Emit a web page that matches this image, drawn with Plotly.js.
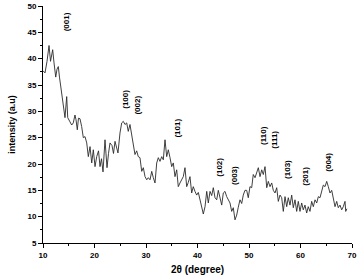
<!DOCTYPE html>
<html>
<head>
<meta charset="utf-8">
<script src="https://cdn.plot.ly/plotly-3.0.1.min.js"></script>
<style>html,body{margin:0;padding:0;background:#fff;}#chart{width:357px;height:279px;}</style>
</head>
<body>
<div id="chart"></div>
<script>
const twoTheta = [10.00,10.39,10.78,11.17,11.46,11.88,12.14,12.47,12.72,12.97,13.20,13.44,13.83,14.08,14.27,14.60,14.80,15.24,15.57,15.88,16.21,16.41,16.66,16.89,17.18,17.51,17.83,18.16,18.49,18.80,19.13,19.46,19.77,20.10,20.43,20.78,21.07,21.36,21.65,22.04,22.43,22.72,23.01,23.40,23.69,23.98,24.27,24.56,24.95,25.28,25.59,25.92,26.25,26.56,26.89,27.22,27.53,27.86,28.19,28.50,28.83,29.17,29.48,29.81,30.14,30.45,30.78,31.11,31.42,31.75,32.08,32.39,32.72,33.05,33.36,33.69,34.02,34.33,34.66,34.99,35.30,35.63,35.96,36.27,36.60,36.89,37.24,37.57,37.90,38.21,38.54,38.87,39.18,39.51,39.84,40.16,40.49,40.82,41.13,41.46,41.79,42.10,42.43,42.76,43.07,43.40,43.73,44.04,44.37,44.70,45.01,45.34,45.67,45.98,46.31,46.64,46.95,47.28,47.61,47.92,48.25,48.58,48.89,49.22,49.55,49.86,50.19,50.52,50.83,51.17,51.50,51.81,52.14,52.47,52.78,53.11,53.44,53.75,54.08,54.41,54.72,55.05,55.38,55.69,56.02,56.35,56.66,56.99,57.32,57.63,57.96,58.29,58.60,58.93,59.26,59.57,59.90,60.23,60.54,60.87,61.20,61.51,61.84,62.17,62.49,62.82,63.15,63.46,63.79,64.12,64.43,64.76,65.09,65.40,65.73,66.06,66.37,66.70,67.03,67.34,67.67,68.00,68.31,68.64,68.78,69.00];
const intensity = [37.7,37.3,39.5,42.5,39.5,41.7,39.2,36.5,38.0,38.5,36.5,34.7,32.2,29.7,28.8,32.8,28.8,28.0,27.4,27.8,29.3,28.4,26.5,28.7,28.6,27.1,25.0,25.2,24.0,21.4,23.3,20.2,22.7,19.5,21.4,22.5,19.5,21.0,18.5,24.6,19.3,22.0,24.0,23.5,22.0,24.3,23.0,22.1,25.9,27.8,28.1,27.5,27.8,26.2,27.5,25.5,24.0,21.8,22.5,21.4,21.2,18.6,19.3,17.6,17.0,17.4,17.0,18.6,17.4,16.4,20.2,21.2,20.5,21.4,20.8,24.6,21.4,22.7,21.2,19.5,20.2,17.6,18.9,15.7,16.4,17.0,17.6,19.3,15.7,16.5,17.6,14.5,15.7,14.8,14.1,14.6,13.2,12.0,10.5,11.9,14.8,12.6,14.8,14.0,15.5,13.6,13.2,15.0,13.6,12.2,14.5,14.8,13.8,13.2,12.6,11.0,11.7,9.4,10.3,11.8,13.2,12.5,14.1,15.0,15.0,13.6,15.7,15.5,18.0,17.4,18.3,19.3,17.6,18.9,18.0,19.5,15.5,16.7,15.7,16.4,15.0,14.5,15.5,12.9,14.1,13.6,11.0,13.8,11.9,13.6,12.2,14.1,11.7,13.2,11.0,12.9,11.0,12.6,11.3,12.2,10.7,11.9,11.0,12.9,11.9,13.2,12.6,13.8,13.6,15.0,16.0,15.7,16.7,15.7,14.5,15.0,13.2,11.9,12.9,11.7,12.2,11.3,11.9,12.9,11.0,11.5];
const peakLabels = ["(001)","(100)","(002)","(101)","(102)","(003)","(110)","(111)","(103)","(201)","(004)"];
const peakX = [14.47,26.12,28.45,36.2,44.37,47.3,52.7,55.05,57.6,60.9,65.5];
const peakY = [46.9,32.2,31.1,26.9,19.3,17.75,25.5,24.6,18.9,17.6,20.4];

const FONT = 'Liberation Sans, Arial, sans-serif';
const trace = {
  x: twoTheta, y: intensity, type: 'scatter', mode: 'lines',
  line: {color: '#2a2a2a', width: 0.9}, hoverinfo: 'skip'
};
const annotations = peakLabels.map((t, i) => ({
  x: peakX[i], y: peakY[i], xref: 'x', yref: 'y', text: '<b>' + t + '</b>',
  showarrow: false, textangle: -90,
  font: {family: FONT, size: 8, color: '#000'}
}));
const axisCommon = {
  showgrid: false, zeroline: false, showline: true, linecolor: '#000', linewidth: 1,
  ticks: 'outside', ticklen: 4, tickwidth: 1, tickcolor: '#000',
  tickfont: {family: FONT, size: 8, color: '#000', weight: 'bold'}
};
const layout = {
  width: 357, height: 279,
  margin: {l: 43, r: 5, t: 6, b: 36},
  paper_bgcolor: '#fff', plot_bgcolor: '#fff',
  showlegend: false,
  xaxis: Object.assign({}, axisCommon, {
    range: [10, 70], dtick: 10, tick0: 10,
    minor: {dtick: 5, ticklen: 2, tickcolor: '#000', ticks: 'outside'},
    title: {text: '<b>2θ (degree)</b>', font: {family: FONT, size: 10, color: '#000'}, standoff: 7}
  }),
  yaxis: Object.assign({}, axisCommon, {
    range: [5, 50], dtick: 5, tick0: 5,
    minor: {dtick: 2.5, ticklen: 2, tickcolor: '#000', ticks: 'outside'},
    title: {text: '<b>intensity (a.u)</b>', font: {family: FONT, size: 9, color: '#000'}, standoff: 10}
  }),
  annotations: annotations
};
Plotly.newPlot('chart', [trace], layout, {staticPlot: true, displayModeBar: false});
</script>
</body>
</html>
